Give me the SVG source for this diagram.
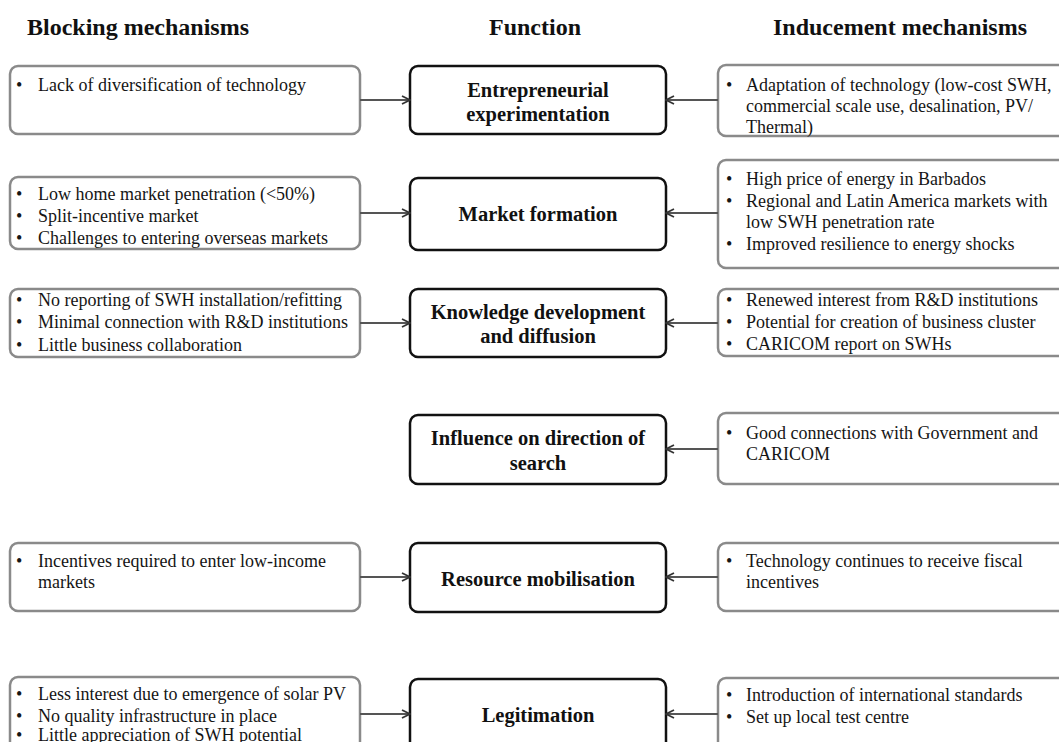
<svg xmlns="http://www.w3.org/2000/svg" width="1059" height="742" viewBox="0 0 1059 742">
<style>
.hdr{font-family:"Liberation Serif","Times New Roman",serif;font-weight:bold;font-size:24px;fill:#111;text-anchor:middle}
.fn rect{fill:#fff;stroke:#111;stroke-width:2.5}
.fn text{font-family:"Liberation Serif","Times New Roman",serif;font-weight:bold;font-size:20.5px;fill:#111;text-anchor:middle}
.mb rect{fill:#fff;stroke:#8a8a8a;stroke-width:2.5}
.mb text{font-family:"Liberation Serif","Times New Roman",serif;font-size:18px;fill:#151515}
.conn line{stroke:#555;stroke-width:2.2;fill:none}
</style>
<defs>
<marker id="ah" viewBox="0 0 10 10" refX="9" refY="5" markerWidth="10" markerHeight="10" markerUnits="userSpaceOnUse" orient="auto">
<path d="M1,1 L9,5 L1,9" fill="none" stroke="#333" stroke-width="1.8"/>
</marker>
</defs>
<rect width="1059" height="742" fill="#fff"/>
<text class="hdr" x="138" y="35">Blocking mechanisms</text>
<text class="hdr" x="535" y="35">Function</text>
<text class="hdr" x="900" y="35">Inducement mechanisms</text>

<g id="b1" class="mb"><rect x="10" y="66" width="350" height="68" rx="8"/>
<text x="16" y="91">•</text><text x="38" y="91">Lack of diversification of technology</text></g>
<g id="b2" class="mb"><rect x="10" y="177" width="350" height="72" rx="8"/>
<text x="16" y="200">•</text><text x="38" y="200">Low home market penetration (&lt;50%)</text>
<text x="16" y="222">•</text><text x="38" y="222">Split-incentive market</text>
<text x="16" y="244">•</text><text x="38" y="244">Challenges to entering overseas markets</text></g>
<g id="b3" class="mb"><rect x="10" y="289" width="350" height="68" rx="8"/>
<text x="16" y="306">•</text><text x="38" y="306">No reporting of SWH installation/refitting</text>
<text x="16" y="328">•</text><text x="38" y="328">Minimal connection with R&amp;D institutions</text>
<text x="16" y="351">•</text><text x="38" y="351">Little business collaboration</text></g>
<g id="b5" class="mb"><rect x="10" y="543" width="350" height="68" rx="8"/>
<text x="16" y="567">•</text><text x="38" y="567">Incentives required to enter low-income</text>
<text x="38" y="588">markets</text></g>
<g id="b6" class="mb"><rect x="10" y="677" width="350" height="74" rx="8"/>
<text x="16" y="700">•</text><text x="38" y="700">Less interest due to emergence of solar PV</text>
<text x="16" y="722">•</text><text x="38" y="722">No quality infrastructure in place</text>
<text x="16" y="741">•</text><text x="38" y="741">Little appreciation of SWH potential</text></g>

<g id="f1" class="fn"><rect x="410" y="66" width="256" height="68" rx="8"/>
<text x="538" y="97">Entrepreneurial</text><text x="538" y="121">experimentation</text></g>
<g id="f2" class="fn"><rect x="410" y="178" width="256" height="72" rx="8"/>
<text x="538" y="221">Market formation</text></g>
<g id="f3" class="fn"><rect x="410" y="289" width="256" height="68" rx="8"/>
<text x="538" y="319">Knowledge development</text><text x="538" y="343">and diffusion</text></g>
<g id="f4" class="fn"><rect x="410" y="415" width="256" height="69" rx="8"/>
<text x="538" y="445">Influence on direction of</text><text x="538" y="470">search</text></g>
<g id="f5" class="fn"><rect x="410" y="543" width="256" height="69" rx="8"/>
<text x="538" y="586">Resource mobilisation</text></g>
<g id="f6" class="fn"><rect x="410" y="679" width="256" height="72" rx="8"/>
<text x="538" y="722">Legitimation</text></g>

<g id="i1" class="mb"><rect x="718" y="65" width="350" height="71" rx="8"/>
<text x="726" y="91">•</text><text x="746" y="91">Adaptation of technology (low-cost SWH,</text>
<text x="746" y="112">commercial scale use, desalination, PV/</text>
<text x="746" y="133">Thermal)</text></g>
<g id="i2" class="mb"><rect x="718" y="160" width="350" height="108" rx="8"/>
<text x="726" y="185">•</text><text x="746" y="185">High price of energy in Barbados</text>
<text x="726" y="207">•</text><text x="746" y="207">Regional and Latin America markets with</text>
<text x="746" y="228">low SWH penetration rate</text>
<text x="726" y="250">•</text><text x="746" y="250">Improved resilience to energy shocks</text></g>
<g id="i3" class="mb"><rect x="718" y="289" width="350" height="67" rx="8"/>
<text x="726" y="306">•</text><text x="746" y="306">Renewed interest from R&amp;D institutions</text>
<text x="726" y="328">•</text><text x="746" y="328">Potential for creation of business cluster</text>
<text x="726" y="350">•</text><text x="746" y="350">CARICOM report on SWHs</text></g>
<g id="i4" class="mb"><rect x="718" y="413" width="350" height="71" rx="8"/>
<text x="726" y="439">•</text><text x="746" y="439">Good connections with Government and</text>
<text x="746" y="460">CARICOM</text></g>
<g id="i5" class="mb"><rect x="718" y="543" width="350" height="68" rx="8"/>
<text x="726" y="567">•</text><text x="746" y="567">Technology continues to receive fiscal</text>
<text x="746" y="588">incentives</text></g>
<g id="i6" class="mb"><rect x="718" y="678" width="350" height="73" rx="8"/>
<text x="726" y="701">•</text><text x="746" y="701">Introduction of international standards</text>
<text x="726" y="723">•</text><text x="746" y="723">Set up local test centre</text></g>

<g id="connectors" class="conn">
<line x1="360" y1="100" x2="410" y2="100" marker-end="url(#ah)"/>
<line x1="718" y1="100" x2="666" y2="100" marker-end="url(#ah)"/>
<line x1="360" y1="213" x2="410" y2="213" marker-end="url(#ah)"/>
<line x1="718" y1="213" x2="666" y2="213" marker-end="url(#ah)"/>
<line x1="360" y1="323" x2="410" y2="323" marker-end="url(#ah)"/>
<line x1="718" y1="323" x2="666" y2="323" marker-end="url(#ah)"/>
<line x1="718" y1="449" x2="666" y2="449" marker-end="url(#ah)"/>
<line x1="360" y1="577" x2="410" y2="577" marker-end="url(#ah)"/>
<line x1="718" y1="577" x2="666" y2="577" marker-end="url(#ah)"/>
<line x1="360" y1="714" x2="410" y2="714" marker-end="url(#ah)"/>
<line x1="718" y1="714" x2="666" y2="714" marker-end="url(#ah)"/>
</g>
</svg>
